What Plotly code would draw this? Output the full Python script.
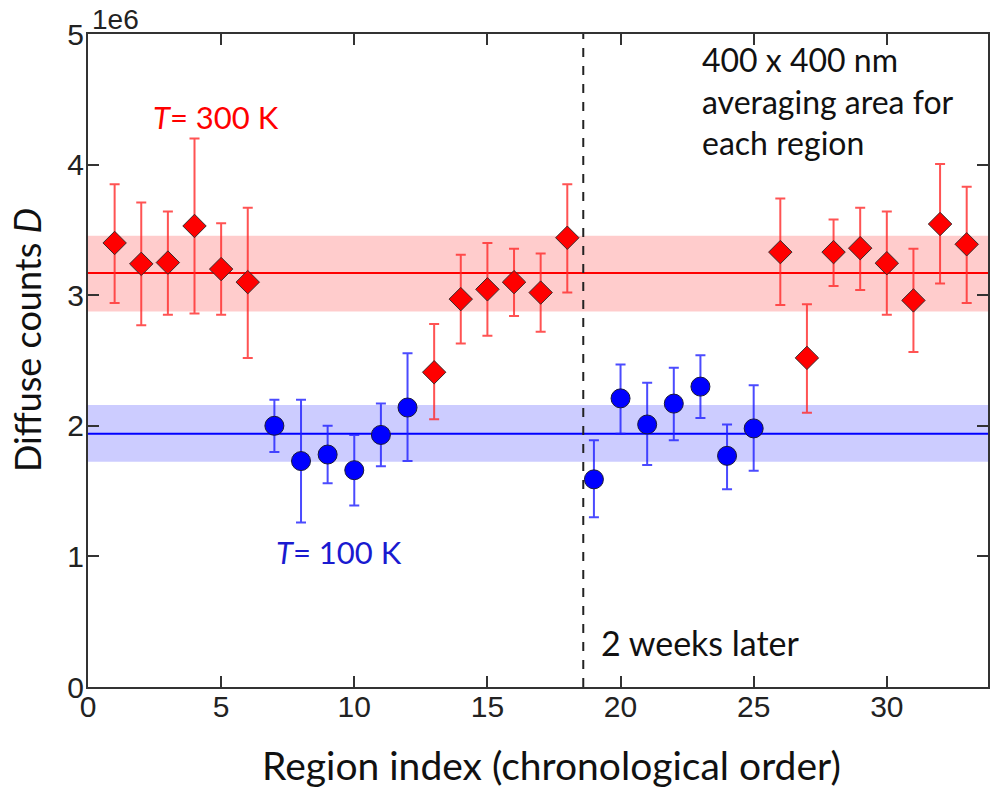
import plotly.graph_objects as go

# ---- data (diffuse counts in units of 1e6) ----
red_x = [1, 2, 3, 4, 5, 6, 13, 14, 15, 16, 17, 18, 26, 27, 28, 29, 30, 31, 32, 33]
red_y = [3.40, 3.24, 3.25, 3.53, 3.20, 3.10, 2.41, 2.97, 3.045, 3.10, 3.02, 3.44,
         3.33, 2.52, 3.33, 3.36, 3.245, 2.96, 3.545, 3.39]
red_hi = [3.85, 3.71, 3.64, 4.20, 3.55, 3.67, 2.78, 3.31, 3.40, 3.355, 3.32, 3.85,
          3.74, 2.93, 3.58, 3.67, 3.64, 3.355, 4.005, 3.83]
red_lo = [2.94, 2.77, 2.85, 2.86, 2.85, 2.52, 2.05, 2.63, 2.69, 2.84, 2.72, 3.02,
          2.925, 2.10, 3.07, 3.04, 2.85, 2.565, 3.09, 2.94]

blue_x = [7, 8, 9, 10, 11, 12, 19, 20, 21, 22, 23, 24, 25]
blue_y = [2.00, 1.73, 1.78, 1.66, 1.93, 2.14, 1.59, 2.21, 2.01, 2.17, 2.30, 1.77, 1.98]
blue_hi = [2.20, 2.20, 2.00, 1.93, 2.17, 2.555, 1.89, 2.47, 2.33, 2.445, 2.54, 2.01, 2.31]
blue_lo = [1.80, 1.26, 1.56, 1.39, 1.69, 1.73, 1.30, 1.94, 1.70, 1.89, 2.06, 1.515, 1.655]

red_mean, red_band = 3.17, (2.875, 3.455)
blue_mean, blue_band = 1.94, (1.725, 2.16)
gap_x = 18.6

x_ticks = [0, 5, 10, 15, 20, 25, 30]
y_ticks = [0, 1, 2, 3, 4, 5]

TEXT_FONT = "Lato"
TICK_FONT = "Liberation Sans"

fig = go.Figure()

fig.add_trace(go.Scatter(
    x=red_x, y=red_y, mode="markers",
    marker=dict(symbol="diamond", size=18, color="#ff0000",
                line=dict(color="#3a2a2a", width=1)),
    error_y=dict(type="data", symmetric=False,
                 array=[h - v for h, v in zip(red_hi, red_y)],
                 arrayminus=[v - l for v, l in zip(red_y, red_lo)],
                 color="rgba(255,40,40,0.8)", thickness=2, width=5),
    showlegend=False))

fig.add_trace(go.Scatter(
    x=blue_x, y=blue_y, mode="markers",
    marker=dict(symbol="circle", size=19, color="#0000ff",
                line=dict(color="#1a1a3a", width=1)),
    error_y=dict(type="data", symmetric=False,
                 array=[h - v for h, v in zip(blue_hi, blue_y)],
                 arrayminus=[v - l for v, l in zip(blue_y, blue_lo)],
                 color="rgba(30,30,255,0.8)", thickness=2, width=5),
    showlegend=False))

shapes = [
    dict(type="rect", xref="paper", yref="y", x0=0, x1=1, y0=red_band[0], y1=red_band[1],
         fillcolor="rgba(255,0,0,0.2)", line=dict(width=0), layer="below"),
    dict(type="rect", xref="paper", yref="y", x0=0, x1=1, y0=blue_band[0], y1=blue_band[1],
         fillcolor="rgba(0,0,255,0.2)", line=dict(width=0), layer="below"),
    dict(type="line", xref="paper", yref="y", x0=0, x1=1, y0=red_mean, y1=red_mean,
         line=dict(color="#ff0000", width=2), layer="below"),
    dict(type="line", xref="paper", yref="y", x0=0, x1=1, y0=blue_mean, y1=blue_mean,
         line=dict(color="#0000ff", width=2), layer="below"),
    dict(type="line", xref="x", yref="paper", x0=gap_x, x1=gap_x, y0=0, y1=1,
         line=dict(color="#222222", width=2, dash="dash"), layer="below"),
]

annotations = [
    dict(text="1e6", x=0.002, y=1.022, xref="paper", yref="paper", xanchor="left",
         yanchor="middle", showarrow=False, font=dict(family=TICK_FONT, size=28, color="#222")),
    dict(text="<i>T</i>= 300 K", x=0.0704, y=0.873, xref="paper", yref="paper",
         xanchor="left", yanchor="middle", showarrow=False,
         font=dict(family=TEXT_FONT, size=31, color="#ff0000")),
    dict(text="<i>T</i>= 100 K", x=0.2069, y=0.2067, xref="paper", yref="paper",
         xanchor="left", yanchor="middle", showarrow=False,
         font=dict(family=TEXT_FONT, size=31, color="#1a1ad0")),
    dict(text="400 x 400 nm<br>averaging area for<br>each region", x=0.680, y=0.898,
         xref="paper", yref="paper", xanchor="left", yanchor="middle", align="left",
         showarrow=False, font=dict(family=TEXT_FONT, size=32, color="#111")),
    dict(text="2 weeks later", x=0.5674, y=0.0689, xref="paper", yref="paper",
         xanchor="left", yanchor="middle", showarrow=False,
         font=dict(family=TEXT_FONT, size=34, color="#111")),
    dict(text="Diffuse counts <i>D</i>", x=-0.067, y=0.531, xref="paper", yref="paper",
         xanchor="center", yanchor="middle", textangle=-90, showarrow=False,
         font=dict(family=TEXT_FONT, size=36, color="#111")),
    dict(text="Region index (chronological order)", x=0.515, y=-0.119, xref="paper",
         yref="paper", xanchor="center", yanchor="middle", showarrow=False,
         font=dict(family=TEXT_FONT, size=39, color="#111")),
]

axis_common = dict(showgrid=False, zeroline=False, showline=True, linecolor="#333333",
                   linewidth=2, mirror="allticks", ticks="inside", ticklen=11,
                   tickwidth=2, tickcolor="#333333",
                   tickfont=dict(family=TICK_FONT, size=30, color="#222"))

fig.update_layout(
    width=992, height=790,
    margin=dict(l=88, r=2, t=34, b=103),
    plot_bgcolor="white", paper_bgcolor="white",
    xaxis=dict(range=[0, 33.8], tickvals=x_ticks, ticktext=[str(v) for v in x_ticks],
               ticklabelstandoff=-8, **axis_common),
    yaxis=dict(range=[0, 5], tickvals=y_ticks, ticktext=[str(v) for v in y_ticks],
               ticklabelstandoff=-4, **axis_common),
    shapes=shapes, annotations=annotations,
)

fig.write_html("out.html")
